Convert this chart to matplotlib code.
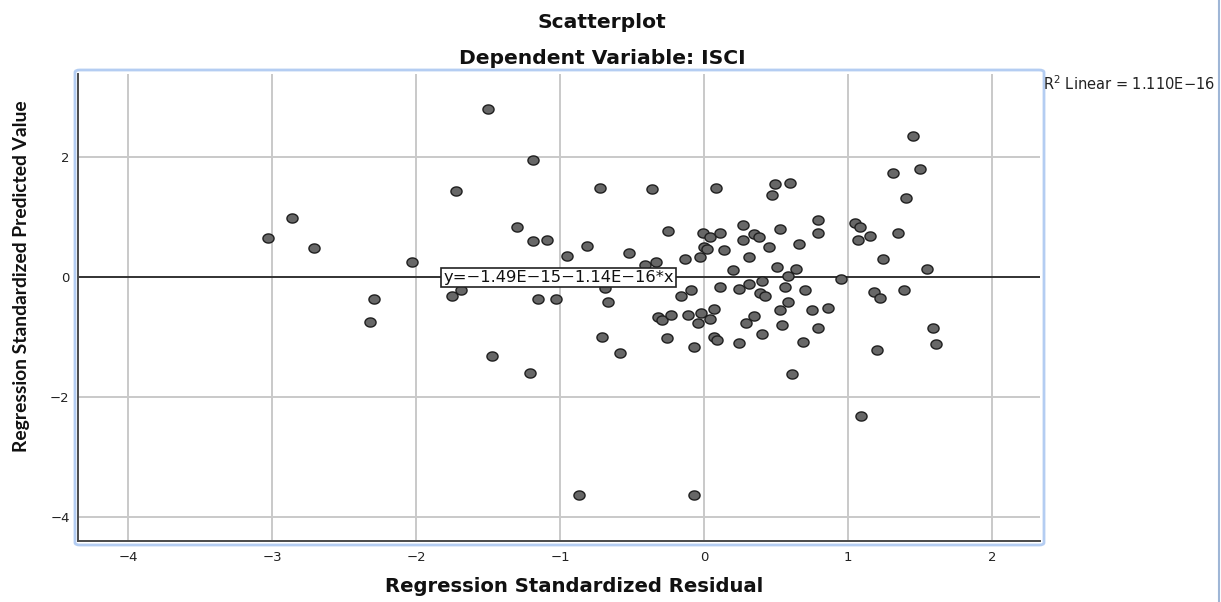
import numpy as np
import matplotlib
matplotlib.use("Agg")
import matplotlib.pyplot as plt
from matplotlib.patches import FancyBboxPatch
from matplotlib.lines import Line2D
from matplotlib.path import Path

# Regression standardized residual (x) and standardized predicted value (y)
residual = [
    -3.03, -2.86, -2.71, -2.03, -2.29, -2.32, -1.50, -1.19, -1.72, -1.30,
    -1.19, -1.09, -0.95, -0.81, -0.72, -0.36, -0.52, -0.25, -0.41, -0.33,
    -0.13, -1.75, -1.69, -1.15, -1.03, -0.69, -0.67, -0.16, -0.09, -0.32,
    -0.29, -0.23, -0.11, -0.71, -0.26, -0.07, -1.47, -1.21, -0.58, 0.08,
    0.49, 0.60, 0.47, -0.01, 0.04, 0.11, 0.00, 0.02, -0.03, 0.14,
    0.27, 0.27, 0.35, 0.38, 0.31, 0.45, 0.53, 0.66, 0.79, 0.79,
    1.05, 1.08, 1.07, 1.15, 1.35, 1.24, 0.20, 0.51, 0.64, 0.58,
    0.40, 0.95, 0.11, 0.24, 0.31, 0.39, 0.42, 0.56, 0.70, 0.58,
    1.18, 1.22, 1.39, -0.02, 0.07, -0.04, 0.04, 0.35, 0.29, 0.53,
    0.75, 0.86, 0.54, 0.79, 0.07, 0.09, 0.40, 0.24, 0.69, 1.20,
    0.61, 1.45, 1.31, 1.50, 1.40, 1.55, 1.59, 1.61, 1.09, -0.87,
    -0.07,
]
predicted = [
    0.65, 0.99, 0.48, 0.26, -0.36, -0.75, 2.80, 1.96, 1.44, 0.83,
    0.61, 0.62, 0.35, 0.52, 1.49, 1.47, 0.41, 0.77, 0.20, 0.26,
    0.30, -0.31, -0.21, -0.37, -0.37, -0.18, -0.41, -0.31, -0.22, -0.66,
    -0.71, -0.63, -0.63, -1.00, -1.01, -1.16, -1.31, -1.59, -1.27, 1.48,
    1.55, 1.57, 1.37, 0.73, 0.67, 0.73, 0.51, 0.47, 0.34, 0.45,
    0.87, 0.62, 0.72, 0.67, 0.34, 0.51, 0.81, 0.56, 0.96, 0.74,
    0.91, 0.84, 0.62, 0.69, 0.74, 0.30, 0.12, 0.17, 0.14, 0.02,
    -0.06, -0.03, -0.17, -0.20, -0.12, -0.27, -0.32, -0.16, -0.22, -0.41,
    -0.25, -0.34, -0.22, -0.59, -0.53, -0.76, -0.69, -0.64, -0.76, -0.55,
    -0.55, -0.52, -0.80, -0.84, -0.99, -1.04, -0.95, -1.10, -1.08, -1.21,
    -1.61, 2.35, 1.73, 1.81, 1.32, 0.13, -0.84, -1.12, -2.32, -3.63,
    -3.63,
]

# Fit line and statistics as reported
intercept = -1.49e-15
slope = -1.14e-16
fit_label = "y=\u22121.49E\u221215\u22121.14E\u221216*x"
r2_label = "R$^2$ Linear = 1.110E\u221216"

x_ticks = [-4, -3, -2, -1, 0, 1, 2]
y_ticks = [-4, -2, 0, 2]
x_limits = (-4.347, 2.333)
y_limits = (-4.395, 3.388)

W, H = 1221, 602
fig = plt.figure(figsize=(W / 100, H / 100), dpi=100)
plt.rcParams["font.family"] = ["DejaVu Sans"]

ax = fig.add_axes([78 / W, 1 - 541 / H, (1040 - 78) / W, (541 - 74) / H])
ax.set_xlim(*x_limits)
ax.set_ylim(*y_limits)
ax.set_xticks(x_ticks)
ax.set_yticks(y_ticks)
ax.set_xticklabels([str(t).replace("-", "\u2212") for t in x_ticks])
ax.set_yticklabels([str(t).replace("-", "\u2212") for t in y_ticks])
ax.tick_params(length=0, labelsize=9.5, colors="#222222")
ax.tick_params(axis="x", pad=7)
ax.tick_params(axis="y", pad=6)
ax.grid(True, color="#c9c9c9", linewidth=1.4)
ax.set_axisbelow(True)
for side in ("top", "right"):
    ax.spines[side].set_visible(False)
for side in ("left", "bottom"):
    ax.spines[side].set_color("#4a4a4a")
    ax.spines[side].set_linewidth(1.4)

# Fit line across the full x range
xs = np.array(x_limits)
ax.plot(xs, intercept + slope * xs, color="#333333", linewidth=1.4, zorder=2)

# Slightly flattened circle marker
t = np.linspace(0, 2 * np.pi, 40)
ellipse = Path(np.column_stack([np.cos(t), 0.82 * np.sin(t)]), closed=True)
ax.scatter(residual, predicted, marker=ellipse, s=64, facecolor="#676767",
           edgecolor="#1e1e1e", linewidth=1.0, zorder=3)

ax.text(-1.01, 0.0, fit_label, ha="center", va="center", fontsize=11.8,
        color="#111111", zorder=5,
        bbox=dict(boxstyle="square,pad=0.12", facecolor="white",
                  edgecolor="#222222", linewidth=1.2))

fig.text(1129 / W, 1 - 84 / H, r2_label, ha="center", va="center",
         fontsize=10.5, color="#222222")

fig.text(602 / W, 1 - 22 / H, "Scatterplot", ha="center", va="center",
         fontsize=14.6, fontweight="bold", color="#111111")
fig.text(602 / W, 1 - 58 / H, "Dependent Variable: ISCI", ha="center",
         va="center", fontsize=14.6, fontweight="bold", color="#111111")
fig.text(574 / W, 1 - 586 / H, "Regression Standardized Residual",
         ha="center", va="center", fontsize=14.1, fontweight="bold",
         color="#111111")
fig.text(22 / W, 1 - 276 / H, "Regression Standardized Predicted Value",
         ha="center", va="center", rotation=90, fontsize=13.9,
         fontweight="bold", family=["Lato", "DejaVu Sans"], color="#111111")

# Selection frame around the plot area and the right panel edge
frame = FancyBboxPatch((75 / W, 1 - 545 / H), (1044 - 75) / W,
                       (545 - 70) / H,
                       boxstyle="round,pad=0,rounding_size=0.004",
                       transform=fig.transFigure, facecolor="none",
                       edgecolor="#b4cdf2", linewidth=2.0, zorder=0)
fig.patches.append(frame)
fig.lines.append(Line2D([1219 / W, 1219 / W], [0, 1],
                        transform=fig.transFigure, color="#9fb6d6",
                        linewidth=1.5))

fig.savefig("out.png", dpi=100)
